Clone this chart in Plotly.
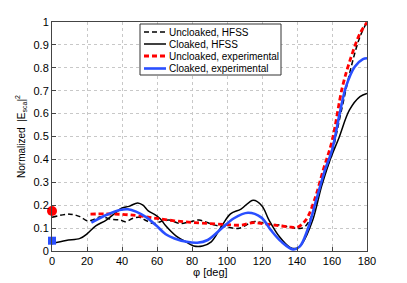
import plotly.graph_objects as go

# Cloaked, HFSS (black solid)
ch_x = [0, 8, 16, 20, 25, 31, 36, 40, 44, 49, 52, 55, 59, 62, 65, 71, 77, 81, 86, 91, 97, 102, 108, 115, 120, 124, 130, 136, 140, 143, 149, 154, 159, 164, 170, 176, 180]
ch_y = [0.032, 0.046, 0.055, 0.075, 0.11, 0.135, 0.165, 0.188, 0.195, 0.21, 0.2, 0.175, 0.158, 0.14, 0.11, 0.065, 0.038, 0.022, 0.022, 0.04, 0.109, 0.162, 0.183, 0.222, 0.197, 0.135, 0.062, 0.016, 0.012, 0.033, 0.135, 0.281, 0.40, 0.495, 0.616, 0.674, 0.688]

# Uncloaked, HFSS (black dashed)
uh_x = [0, 10, 16, 20, 23, 28, 34, 39, 42, 46, 50, 54, 58, 62, 67, 73, 79, 84, 93, 100, 107, 115, 122, 130, 140, 144, 149, 154, 160, 165, 171, 176, 180]
uh_y = [0.147, 0.161, 0.15, 0.132, 0.135, 0.15, 0.138, 0.135, 0.128, 0.142, 0.147, 0.132, 0.12, 0.128, 0.135, 0.12, 0.128, 0.135, 0.113, 0.105, 0.099, 0.128, 0.12, 0.113, 0.099, 0.103, 0.164, 0.295, 0.43, 0.60, 0.805, 0.936, 1.0]

# Uncloaked, experimental (red dashed)
ue_x = [22, 30, 40, 48, 55, 60, 70, 80, 90, 100, 108, 115, 120, 127, 135, 140, 145, 150, 155, 160, 166, 171, 176, 180]
ue_y = [0.161, 0.162, 0.16, 0.155, 0.148, 0.142, 0.132, 0.125, 0.12, 0.115, 0.113, 0.124, 0.12, 0.113, 0.106, 0.103, 0.135, 0.223, 0.354, 0.48, 0.718, 0.849, 0.95, 0.998]

# Cloaked, experimental (blue solid)
ce_x = [22.5, 31, 38.7, 43.4, 48, 54, 59.6, 65, 70, 77, 83, 89, 97, 104, 112, 119.5, 125, 131, 137.7, 141.5, 146, 151, 156, 160, 164.4, 168, 173, 177.7, 180]
ce_y = [0.124, 0.157, 0.179, 0.182, 0.172, 0.147, 0.111, 0.073, 0.055, 0.04, 0.036, 0.048, 0.099, 0.143, 0.167, 0.147, 0.092, 0.041, 0.007, 0.019, 0.092, 0.223, 0.354, 0.44, 0.601, 0.718, 0.805, 0.838, 0.842]

# markers at phi = 0
red_pt = [0, 0.175]
blue_pt = [0, 0.045]

x_ticks = [0, 20, 40, 60, 80, 100, 120, 140, 160, 180]
y_ticks = [0, 0.1, 0.2, 0.3, 0.4, 0.5, 0.6, 0.7, 0.8, 0.9, 1]
y_tick_text = ["0", "0.1", "0.2", "0.3", "0.4", "0.5", "0.6", "0.7", "0.8", "0.9", "1"]

legend_names = ["Uncloaked, HFSS", "Cloaked, HFSS", "Uncloaked, experimental", "Cloaked, experimental"]
legend_styles = [("black", 1.5, "5px,3px"), ("black", 1.5, "solid"), ("#ff0000", 2.8, "5px,3px"), ("#2a4fff", 2.6, "solid")]

FONT = "Liberation Sans, Arial, sans-serif"
OFF = 8  # default page body margin
L, T = 44, 14
PW, PH = 315, 229
R, B = 32, 32
W, H = L + PW + R, T + PH + B

def px_x(p):
    return (p - OFF - L) / PW

def px_y(p):
    return (T + PH - (p - OFF)) / PH

fig = go.Figure()
series = [(uh_x, uh_y), (ch_x, ch_y), (ue_x, ue_y), (ce_x, ce_y)]
for (xs, ys), name, (col, wd, dash) in zip(series, legend_names, legend_styles):
    fig.add_trace(go.Scatter(x=xs, y=ys, mode="lines", name=name, showlegend=False,
                             line=dict(color=col, width=wd, dash=dash, shape="spline")))
fig.add_trace(go.Scatter(x=[red_pt[0]], y=[red_pt[1]], mode="markers", showlegend=False,
                         marker=dict(color="#ff0000", size=10, symbol="circle"), cliponaxis=False))
fig.add_trace(go.Scatter(x=[blue_pt[0]], y=[blue_pt[1]], mode="markers", showlegend=False,
                         marker=dict(color="#2a4fff", size=8, symbol="square"), cliponaxis=False))

# compact legend box (MATLAB style)
fig.add_shape(type="rect", xref="paper", yref="paper",
              x0=px_x(140), x1=px_x(281), y0=px_y(75), y1=px_y(24),
              line=dict(color="#333", width=1), fillcolor="white", layer="above")
rows = [32, 44, 56, 68.5]
for ry, name, (col, wd, dash) in zip(rows, legend_names, legend_styles):
    fig.add_shape(type="line", xref="paper", yref="paper",
                  x0=px_x(144), x1=px_x(166), y0=px_y(ry), y1=px_y(ry),
                  line=dict(color=col, width=wd, dash=dash), layer="above")
    fig.add_annotation(xref="paper", yref="paper", x=px_x(167), y=px_y(ry),
                       xanchor="left", yanchor="middle", showarrow=False, text=name,
                       font=dict(family=FONT, size=10, color="black"))

# x-axis title placed below tick labels
fig.add_annotation(xref="paper", yref="paper", x=px_x(210), y=px_y(272),
                   xanchor="center", yanchor="middle", showarrow=False, text="φ [deg]",
                   font=dict(family=FONT, size=11, color="black"))

axis_common = dict(showline=True, linecolor="#444", linewidth=1, mirror=True,
                   ticks="inside", ticklen=4, tickcolor="#444", automargin=False,
                   showgrid=True, gridcolor="#c8c8c8", griddash="dot", gridwidth=1,
                   zeroline=False, tickfont=dict(family=FONT, size=11, color="black"))

fig.update_xaxes(range=[0, 180], tickvals=x_ticks, **axis_common)
fig.update_yaxes(range=[0, 1], tickvals=y_ticks, ticktext=y_tick_text, **axis_common,
                 title=dict(text="Normalized  |E<sub>sca</sub>|<sup>2</sup>", font=dict(family=FONT, size=10, color="black"), standoff=6))

fig.update_layout(
    width=W, height=H,
    margin=dict(l=L, r=R, t=T, b=B),
    plot_bgcolor="white", paper_bgcolor="white",
    showlegend=False,
)
fig.write_html("out.html")
